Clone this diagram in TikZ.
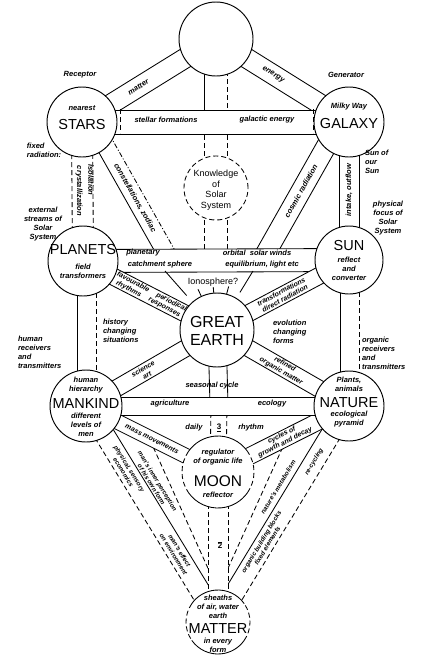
\documentclass[tikz,border=0pt]{standalone}
\usepackage{fontspec}
\setmainfont{Liberation Sans}
\usetikzlibrary{calc}
\pgfdeclarelayer{bg}
\pgfsetlayers{bg,main}
\newcommand\tband[5]{%
  \fill[white] ($(#1)!#3!90:(#2)$) -- ($(#2)!#3!-90:(#1)$) -- ($(#2)!#3!90:(#1)$) -- ($(#1)!#3!-90:(#2)$) -- cycle;
  \draw[#4] ($(#1)!#3!90:(#2)$) -- ($(#2)!#3!-90:(#1)$);
  \draw[#5] ($(#1)!#3!-90:(#2)$) -- ($(#2)!#3!90:(#1)$);}
\newcommand\pline[4]{\draw[#4] ($(#1)!#3!90:(#2)$) -- ($(#2)!#3!-90:(#1)$);}
\newcommand\btext[6][]{\path ($(#2)!#4!90:(#3)$) -- ($(#3)!#4!-90:(#2)$) node[lbl,sloped,pos=#5,#1] {#6};}
\begin{document}
\begin{tikzpicture}[x=1pt,y=-1pt,
  every node/.style={inner sep=0pt,outer sep=0pt},
  ln/.style={line width=0.85pt},
  dl/.style={line width=0.85pt,dash pattern=on 5pt off 3pt},
  ddl/.style={line width=0.85pt,dash pattern=on 5pt off 2pt on 1pt off 2pt},
  circ/.style={circle,draw,fill=white,line width=0.95pt},
  lbl/.style={font=\fontsize{7.5}{9}\selectfont\itshape\bfseries,align=center},
  lbt/.style={font=\fontsize{7}{7.8}\selectfont\itshape\bfseries},
  lblv/.style={font=\fontsize{6.3}{7}\selectfont\itshape\bfseries},
  capf/.style={font=\fontsize{14.5}{15}\selectfont},
  knowf/.style={font=\fontsize{9}{10.5}\selectfont,align=center}]
\useasboundingbox (0,0) rectangle (427,656);
% circles
\node[circ,minimum size=74pt] (TOP) at (216,39) {};
\node[circ,minimum size=70pt] (STARS) at (82,122) {};
\node[circ,minimum size=70pt] (GALAXY) at (349,122) {};
\node[circle,draw,fill=white,dl,minimum size=64pt] (KNOW) at (216,188) {};
\node[circ,minimum size=70pt] (PLANETS) at (83,261) {};
\node[circ,minimum size=68pt] (SUN) at (349,260) {};
\node[circ,minimum size=74pt] (EARTH) at (217,330) {};
\node[circ,minimum size=72pt] (MANKIND) at (86,406) {};
\node[circ,minimum size=70pt] (NATURE) at (349,406) {};
\node[circle,fill=white,minimum size=72pt] (MOON) at (218,472) {};
\node[circle,fill=white,minimum size=64pt] (MATTER) at (218,622) {};
\draw[ln] (MOON.35) arc[start angle=35,end angle=145,radius=36pt];
\draw[dl] (MOON.145) arc[start angle=145,end angle=215,radius=36pt];
\draw[ln] (MOON.215) arc[start angle=215,end angle=325,radius=36pt];
\draw[dl] (MOON.325) arc[start angle=325,end angle=395,radius=36pt];
\draw[ln] (MATTER.35) arc[start angle=35,end angle=145,radius=32pt];
\draw[dl] (MATTER.145) arc[start angle=145,end angle=215,radius=32pt];
\draw[ln] (MATTER.215) arc[start angle=215,end angle=325,radius=32pt];
\draw[dl] (MATTER.325) arc[start angle=325,end angle=395,radius=32pt];
% helper coordinates
\coordinate (sA) at (92,122); \coordinate (sB) at (170,260);
\coordinate (gA) at (340,122); \coordinate (gB) at (262,260);
\coordinate (kB) at (216,260);
\coordinate (pT) at (204.5,120);
\coordinate (pmA) at (87,261); \coordinate (pmB) at (87,406);
\coordinate (snA) at (349.5,260); \coordinate (snB) at (349.5,406);
\coordinate (eB) at (219,405);
\coordinate (vlC1) at (150,440); \coordinate (vlC2) at (216,586);
\coordinate (vrC1) at (286,440); \coordinate (vrC2) at (220,586);
\coordinate (io1) at (165,271); \coordinate (io2) at (253,271);
\coordinate (mk1) at (120,109); \coordinate (mk2) at (120,133);
\coordinate (mk3) at (313,109); \coordinate (mk4) at (313,133);
\begin{pgfonlayer}{bg}
\tband{TOP}{STARS}{10pt}{ln}{ln}
\tband{TOP}{GALAXY}{10pt}{ln}{ln}
\tband{TOP}{KNOW}{11.5pt}{dl}{dl}
\draw[ln] ($(TOP)+(-11.5,0)$) -- (pT);
\tband{STARS}{GALAXY}{12pt}{ln}{ln}
\draw[dl] (mk1) -- (mk2); \draw[dl] (mk3) -- (mk4);
\tband{STARS}{PLANETS}{10.5pt}{dl}{dl}
\tband{GALAXY}{SUN}{10pt}{ln}{ln}
\tband{sA}{sB}{9pt}{ddl}{ln}
\tband{gA}{gB}{10pt}{ln}{ln}
\tband{KNOW}{kB}{11.5pt}{dl}{dl}
\tband{PLANETS}{SUN}{11.5pt}{ln}{ln}
\tband{PLANETS}{EARTH}{8.5pt}{ln}{ln}
\tband{SUN}{EARTH}{8.5pt}{ln}{ln}
\draw[ln] (io1) -- ($(EARTH)!46pt!(io1)$);
\draw[ln] (io2) -- ($(EARTH)!44pt!(io2)$);
\draw[ln] (EARTH.115) -- ++(115:8pt);
\draw[ln] (EARTH.75) -- ++(75:8pt);
\draw[ln] (EARTH.95) -- ++(95:6pt);
\tband{pmA}{pmB}{9.5pt}{dl}{ln}
\tband{snA}{snB}{9.5pt}{dl}{ln}
% lower V
\pline{MANKIND}{MATTER}{-9pt}{dl}
\pline{MANKIND}{MATTER}{11pt}{ln}
\draw[dl] (vlC1) -- (vlC2);
\pline{NATURE}{MATTER}{9pt}{dl}
\pline{NATURE}{MATTER}{-11pt}{ln}
\draw[dl] (vrC1) -- (vrC2);
\tband{EARTH}{eB}{9pt}{ln}{ln}
\tband{eB}{MOON}{8pt}{dl}{dl}
\tband{EARTH}{MANKIND}{8.5pt}{ln}{ln}
\tband{EARTH}{NATURE}{8.5pt}{ln}{ln}
\tband{MANKIND}{MOON}{7.5pt}{ln}{ln}
\tband{NATURE}{MOON}{8.5pt}{ln}{ln}
\tband{MANKIND}{NATURE}{9pt}{ln}{ln}
\tband{MOON}{MATTER}{10pt}{dl}{dl}
\end{pgfonlayer}
% texts in circles
\node[capf] (tStars) at (82,125) {STARS};
\node[lbl] (tNear) at (82,108) {nearest};
\node[capf] (tGal) at (349,124) {GALAXY};
\node[lbl] (tMilky) at (349,107) {Milky Way};
\node[knowf] (tKnow) at (216,190) {Knowledge\\of\\Solar\\System};
\node[capf] (tPl) at (83,250) {PLANETS};
\node[lbl] (tPl2) at (83,271) {field\\transformers};
\node[capf] (tSun) at (349,246) {SUN};
\node[lbl] (tSun2) at (349,269) {reflect\\and\\converter};
\node[font=\fontsize{16}{18}\selectfont,align=center] (tEarth) at (217,331) {GREAT\\EARTH};
\node[lbl] (tMk1) at (86,385) {human\\hierarchy};
\node[capf] (tMk) at (86,404) {MANKIND};
\node[lbl] (tMk2) at (86,425) {different\\levels of\\men};
\node[lbl] (tNa1) at (349,384) {Plants,\\animals};
\node[capf] (tNa) at (349,403) {NATURE};
\node[lbl] (tNa2) at (349,419) {ecological\\pyramid};
\node[lbl] (tMo1) at (218,457) {regulator\\of organic life};
\node[capf,font=\fontsize{15.5}{16}\selectfont] (tMo) at (218,481) {MOON};
\node[lbl] (tMo2) at (218,495) {reflector};
\node[lbl] (tMa1) at (218,607) {sheaths\\of air, water\\earth};
\node[capf] (tMa) at (218,629) {MATTER};
\node[lbl] (tMa2) at (218,645) {in every\\form};
% outside labels
\node[lbl] (tRec) at (80,75) {Receptor};
\node[lbl] (tGen) at (346,75) {Generator};
\node[lbl,align=left,anchor=west] (tFixed) at (27,150) {fixed\\radiation:};
\node[lbl] (tExt) at (43,224) {external\\streams of\\Solar\\System};
\node[lbl,align=left,anchor=west] (tSunof) at (365,162) {Sun of\\our\\Sun};
\node[lbl] (tPhys) at (388,218) {physical\\focus of\\Solar\\System};
\node[lbl,align=left,anchor=west] (tHum) at (18,352) {human\\receivers\\and\\transmitters};
\node[lbl,align=left,anchor=west] (tHist) at (103,331) {history\\changing\\situations};
\node[lbl,align=left,anchor=west] (tEvo) at (273,332) {evolution\\changing\\forms};
\node[lbl,align=left,anchor=west] (tOrg) at (362,353) {organic\\receivers\\and\\transmitters};
% band texts
\btext{TOP}{STARS}{0pt}{0.58}{matter}
\btext{TOP}{GALAXY}{0pt}{0.43}{energy}
\node[lbl] (tSF) at (166,120) {stellar formations};
\node[lbl] (tGE) at (267,120) {galactic energy};
\node[lbl,rotate=-90] (tCr) at (79,191) {crystallization};
\node[lbl,rotate=-90] (tIs) at (91,180) {isolation};
\btext{sA}{sB}{0pt}{0.55}{constellations, zodiac}
\btext{gA}{gB}{0pt}{0.5}{cosmic radiation}
\node[lbl,rotate=90] (tIn) at (349,190) {intake, outflow};
\node[lbl] (tPla) at (143,253) {planetary};
\node[lbl] (tCat) at (160,265) {catchment sphere};
\node[lbl] (tOrb) at (257,253) {orbital \ solar winds};
\node[lbl] (tEq) at (262,265) {equilibrium, light etc};
\btext[lbt]{PLANETS}{EARTH}{0pt}{0.5}{favourable \quad periodical\\rhythms \quad responses}
\btext[lbt]{SUN}{EARTH}{0pt}{0.5}{transformations\\direct radiation}
\node[knowf] (tIono) at (213,282) {Ionosphere?};
\btext[lbt]{EARTH}{MANKIND}{0pt}{0.55}{science\\art}
\btext[lbt]{EARTH}{NATURE}{0pt}{0.5}{refined\\organic matter}
\node[lbl] (tSeas) at (212,386) {seasonal cycle};
\node[lbl] (tAgr) at (170,404) {agriculture};
\node[lbl] (tEco) at (272,404) {ecology};
\node[lbl] (tDaily) at (194,428) {daily};
\node[lbl] (tRhy) at (251,428) {rhythm};
\node[font=\bfseries\fontsize{8}{8}\selectfont] (tG1) at (219,428) {\underline{3}};
\btext[lbt]{MANKIND}{MOON}{0pt}{0.5}{mass movements}
\btext[lbt]{NATURE}{MOON}{0pt}{0.5}{cycles of\\growth and decay}
\btext[lblv]{MANKIND}{MATTER}{1pt}{0.3}{physical, sensory\\economics}
\btext[lblv]{MANKIND}{MATTER}{18.5pt}{0.4}{man's inner perception\\of his own form}
\btext[lblv]{MANKIND}{MATTER}{1pt}{0.68}{man's effect\\on environment}
\btext[lblv]{NATURE}{MATTER}{-1pt}{0.26}{re-cycling}
\btext[lblv]{NATURE}{MATTER}{-18.5pt}{0.42}{nature's metabolism}
\btext[lblv]{NATURE}{MATTER}{-1pt}{0.64}{organic building blocks\\fixed elements}
\node[font=\bfseries\fontsize{8}{8}\selectfont] (tG2) at (220,545) {$\overline{\mbox{2}}$};
\end{tikzpicture}
\end{document}
